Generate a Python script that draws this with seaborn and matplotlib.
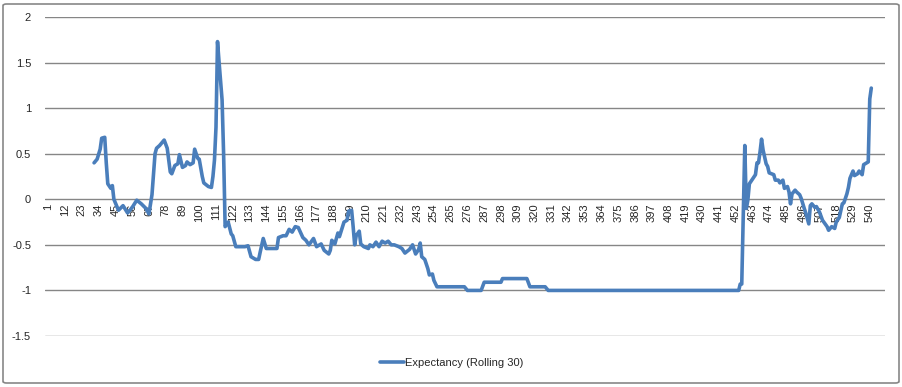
import numpy as np
import pandas as pd
import matplotlib
matplotlib.use("Agg")
import matplotlib.pyplot as plt
from matplotlib.patches import FancyBboxPatch
import seaborn as sns

sns.set_style("white")
plt.rcParams['font.family'] = ['Liberation Sans', 'DejaVu Sans']

# trade number (category) and rolling expectancy
trade = [31, 33, 35, 36, 38, 39, 40, 42, 43, 44, 47, 50, 53, 56, 59, 62, 65, 67, 69, 71,
         72, 74, 77, 79, 81, 82, 84, 86, 87, 89, 91, 92, 94, 96, 97, 99, 100, 102, 103, 106,
         108, 109, 110, 111, 112, 113, 115, 116, 117, 119, 121, 122, 124, 127, 130, 132, 134, 137, 139, 140,
         142, 144, 148, 151, 152, 155, 157, 159, 161, 163, 165, 168, 170, 172, 175, 177, 180, 182, 185, 186,
         187, 189, 191, 192, 195, 197, 198, 200, 201, 202, 203, 205, 206, 208, 211, 212, 214, 216, 218, 220,
         222, 224, 226, 228, 231, 233, 235, 238, 240, 242, 244, 245, 246, 248, 250, 251, 253, 254, 256, 274,
         276, 285, 287, 298, 299, 315, 317, 327, 329, 454, 455, 456, 458, 459, 460, 461, 463, 465, 466, 467,
         468, 469, 470, 472, 473, 474, 477, 478, 480, 481, 483, 484, 486, 487, 488, 489, 491, 492, 494, 495,
         497, 498, 500, 501, 502, 504, 505, 507, 509, 512, 513, 515, 517, 518, 520, 522, 523, 525, 526, 527,
         529, 530, 532, 533, 535, 536, 538, 539, 540, 541]
expectancy = [0.40, 0.44, 0.55, 0.67, 0.68, 0.40, 0.17, 0.12, 0.15, 0.00, -0.12, -0.07, -0.15, -0.09, -0.01, -0.05, -0.10, -0.16, 0.05, 0.50,
              0.56, 0.59, 0.65, 0.56, 0.30, 0.28, 0.37, 0.39, 0.49, 0.35, 0.37, 0.41, 0.38, 0.40, 0.55, 0.45, 0.44, 0.25, 0.18, 0.14,
              0.13, 0.25, 0.43, 0.79, 1.73, 1.51, 1.09, 0.50, -0.30, -0.25, -0.38, -0.40, -0.52, -0.52, -0.52, -0.51, -0.63, -0.66, -0.66, -0.58,
              -0.43, -0.54, -0.54, -0.54, -0.42, -0.40, -0.40, -0.33, -0.36, -0.30, -0.31, -0.42, -0.45, -0.50, -0.43, -0.52, -0.49, -0.56, -0.60, -0.56,
              -0.45, -0.49, -0.37, -0.41, -0.25, -0.23, -0.13, -0.12, -0.30, -0.50, -0.40, -0.35, -0.49, -0.52, -0.54, -0.50, -0.52, -0.47, -0.52, -0.46,
              -0.48, -0.46, -0.50, -0.50, -0.52, -0.54, -0.59, -0.55, -0.50, -0.60, -0.55, -0.48, -0.63, -0.66, -0.76, -0.83, -0.82, -0.89, -0.96, -0.96,
              -1.00, -1.00, -0.91, -0.91, -0.87, -0.87, -0.96, -0.96, -1.00, -1.00, -0.93, -0.93, 0.59, -0.10, -0.01, 0.17, 0.22, 0.27, 0.40, 0.40,
              0.52, 0.66, 0.54, 0.39, 0.36, 0.29, 0.27, 0.21, 0.21, 0.18, 0.21, 0.12, 0.14, 0.08, -0.05, 0.06, 0.10, 0.08, 0.05, 0.01,
              -0.10, -0.15, -0.27, -0.07, -0.05, -0.09, -0.08, -0.14, -0.23, -0.30, -0.34, -0.30, -0.32, -0.25, -0.20, -0.05, -0.04, 0.06, 0.13, 0.23,
              0.31, 0.26, 0.28, 0.31, 0.27, 0.38, 0.40, 0.41, 1.10, 1.22]
x_ticks = list(range(1, 541, 11))
y_ticks = [-1.5, -1, -0.5, 0, 0.5, 1, 1.5, 2]
y_labels = ['-1.5', '-1', '-0.5', '0', '0.5', '1', '1.5', '2']

df = pd.DataFrame({'trade': trade, 'expectancy': expectancy})

fig = plt.figure(figsize=(9.03, 3.87), dpi=100)
ax = fig.add_axes([45 / 903, 1 - 336 / 387, 840 / 903, 319 / 387])

sns.lineplot(x='trade', y='expectancy', data=df, ax=ax, color='#4A7EBB',
             linewidth=2.6, label='Expectancy (Rolling 30)', legend=False)

grid_col = '#868686'
for yv in y_ticks:
    ax.axhline(yv, color=grid_col, linewidth=1, zorder=0)

# category axis crosses at 0, set before the tick labels (set_position resets them)
ax.spines['bottom'].set_position(('data', 0))
for s in ['top', 'right', 'left', 'bottom']:
    ax.spines[s].set_visible(False)

ax.set_ylim(-1.5, 2)
ax.set_xlim(-1.2, 550)
ax.set_yticks(y_ticks)
ax.set_yticklabels(y_labels, fontsize=8)
ax.set_xticks(x_ticks)
ax.set_xticklabels([str(t) for t in x_ticks], rotation=90, fontsize=8)
ax.tick_params(axis='x', length=0, pad=3)
ax.tick_params(axis='y', length=0, pad=10)
ax.set_xlabel('')
ax.set_ylabel('')

handles, labels = ax.get_legend_handles_labels()
fig.legend(handles, labels, loc='center', bbox_to_anchor=(0.5, 1 - 363 / 387),
           frameon=False, fontsize=8, handlelength=2.2, handletextpad=0.1)

border = FancyBboxPatch((3 / 903, 4 / 387), 896 / 903, 379 / 387,
                        boxstyle='round,pad=0,rounding_size=0.004',
                        transform=fig.transFigure, fill=False,
                        edgecolor='#878787', linewidth=1.2)
fig.patches.append(border)

fig.savefig('out.png', dpi=100)
